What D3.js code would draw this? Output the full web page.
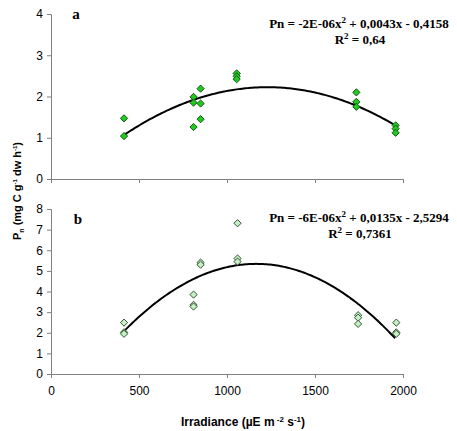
<!DOCTYPE html>
<html>
<head>
<meta charset="utf-8">
<script src="https://cdn.jsdelivr.net/npm/d3@7"></script>
<style>
  body { margin: 0; background: #fff; }
  svg { display: block; }
  .tick text { font-family: "Liberation Sans", Arial, sans-serif; font-size: 12px; fill: #000; }
  .eq { font-family: "Liberation Serif", "Times New Roman", serif; font-weight: bold; font-size: 13px; }
</style>
</head>
<body>
<svg id="chart" width="457" height="431"></svg>
<script>
// irradiance and Pn readings, panel a
var irrA = [415, 415, 810, 810, 810, 850, 850, 850, 1055, 1055, 1055, 1735, 1735, 1735, 1958, 1958, 1958];
var pnA  = [1.47, 1.04, 1.99, 1.85, 1.26, 2.19, 1.83, 1.45, 2.56, 2.49, 2.42, 2.1, 1.87, 1.75, 1.3, 1.22, 1.12];

// panel b
var irrB = [415, 415, 415, 810, 810, 810, 850, 850, 1060, 1060, 1060, 1745, 1745, 1745, 1962, 1962, 1962];
var pnB  = [2.49, 2.02, 1.95, 3.85, 3.35, 3.27, 5.4, 5.3, 7.31, 5.6, 5.45, 2.85, 2.73, 2.43, 2.49, 2.02, 1.95];

// trend line coefficients (x^2, x, const)
var trendA = [-1.75e-6, 0.0043, -0.4158];
var trendB = [-5.79e-6, 0.0135, -2.5294];
var trendRange = [415, 1960];

var xTicks = [0, 500, 1000, 1500, 2000];
var yTicksA = [0, 1, 2, 3, 4];
var yTicksB = [0, 1, 2, 3, 4, 5, 6, 7, 8];

var svg = d3.select('#chart');

var x = d3.scaleLinear().domain([0, 2000]).range([51, 403]);

function panel(opts) {
  var y = d3.scaleLinear().domain([0, opts.ymax]).range([opts.bottom, opts.top]);
  var g = svg.append('g');

  var yAxis = g.append('g')
    .attr('transform', 'translate(51,0)')
    .call(d3.axisLeft(y).tickValues(opts.yTicks).tickSize(4).tickPadding(4).tickFormat(d3.format('d')));
  var xAxis = g.append('g')
    .attr('transform', 'translate(0,' + opts.bottom + ')')
    .call(d3.axisBottom(x).tickValues(xTicks).tickSize(4).tickPadding(8)
      .tickFormat(opts.xLabels ? d3.format('d') : ''));
  [xAxis, yAxis].forEach(function(a) {
    a.select('.domain').attr('stroke', '#808080');
    a.selectAll('.tick line').attr('stroke', '#808080');
  });

  // trend curve
  var c = opts.coef;
  var pts = d3.range(trendRange[0], trendRange[1] + 1, 10).map(function(v) {
    return [v, c[0] * v * v + c[1] * v + c[2]];
  });
  g.append('path')
    .datum(pts)
    .attr('fill', 'none')
    .attr('stroke', '#000')
    .attr('stroke-width', 2)
    .attr('d', d3.line().x(function(d) { return x(d[0]); }).y(function(d) { return y(d[1]); }));

  // diamonds
  var sym = d3.symbol().type(d3.symbolSquare).size(26);
  g.selectAll('.pt')
    .data(opts.xs)
    .enter()
    .append('path')
    .attr('class', 'pt')
    .attr('d', sym)
    .attr('transform', function(d, i) { return 'translate(' + x(d) + ',' + y(opts.ys[i]) + ') rotate(45)'; })
    .attr('fill', opts.fill)
    .attr('stroke', opts.stroke)
    .attr('stroke-width', 0.9);

  g.append('text')
    .attr('x', opts.lx).attr('y', opts.ly)
    .attr('text-anchor', 'middle')
    .style('font-family', '"Liberation Serif", serif')
    .style('font-weight', 'bold')
    .style('font-size', '15px')
    .text(opts.letter);

  var e1 = g.append('text').attr('class', 'eq').attr('x', 359).attr('y', opts.ey).attr('text-anchor', 'middle');
  e1.append('tspan').text(opts.eq[0]);
  e1.append('tspan').attr('dy', -5).style('font-size', '9px').text('2');
  e1.append('tspan').attr('dy', 5).text(opts.eq[1]);
  var e2 = g.append('text').attr('class', 'eq').attr('x', 360).attr('y', opts.ey + 16).attr('text-anchor', 'middle');
  e2.append('tspan').text('R');
  e2.append('tspan').attr('dy', -5).style('font-size', '9px').text('2');
  e2.append('tspan').attr('dy', 5).text(' = ' + opts.r2);
}

panel({
  top: 14, bottom: 179, ymax: 4, yTicks: yTicksA, xLabels: false,
  xs: irrA, ys: pnA, coef: trendA, fill: '#1ecc1e', stroke: '#134d13',
  letter: 'a', lx: 76, ly: 19, ey: 28,
  eq: ['Pn = -2E-06x', ' + 0,0043x - 0,4158'], r2: '0,64'
});

panel({
  top: 209, bottom: 374, ymax: 8, yTicks: yTicksB, xLabels: true,
  xs: irrB, ys: pnB, coef: trendB, fill: '#c4f0c4', stroke: '#2d4a2d',
  letter: 'b', lx: 78, ly: 224, ey: 222,
  eq: ['Pn = -6E-06x', ' + 0,0135x - 2,5294'], r2: '0,7361'
});

// axis titles
var yl = svg.append('text')
  .attr('transform', 'translate(21,191) rotate(-90)')
  .attr('text-anchor', 'middle')
  .style('font-family', '"Liberation Sans", Arial, sans-serif')
  .style('font-weight', 'bold')
  .style('font-size', '11px');
yl.append('tspan').text('P');
yl.append('tspan').attr('dy', 3).style('font-size', '7px').text('n');
yl.append('tspan').attr('dy', -3).text(' (mg C g');
yl.append('tspan').attr('dy', -4).style('font-size', '6px').text('-1');
yl.append('tspan').attr('dy', 4).text(' dw h');
yl.append('tspan').attr('dy', -4).style('font-size', '6px').text('-1');
yl.append('tspan').attr('dy', 4).text(')');

var xl = svg.append('text')
  .attr('x', 243).attr('y', 426)
  .attr('text-anchor', 'middle')
  .style('font-family', '"Liberation Sans", Arial, sans-serif')
  .style('font-weight', 'bold')
  .style('font-size', '12px');
xl.append('tspan').text('Irradiance (µE m');
xl.append('tspan').attr('dy', -4).style('font-size', '8px').text(' -2');
xl.append('tspan').attr('dy', 4).text(' s');
xl.append('tspan').attr('dy', -4).style('font-size', '8px').text('-1');
xl.append('tspan').attr('dy', 4).text(')');
</script>
</body>
</html>
